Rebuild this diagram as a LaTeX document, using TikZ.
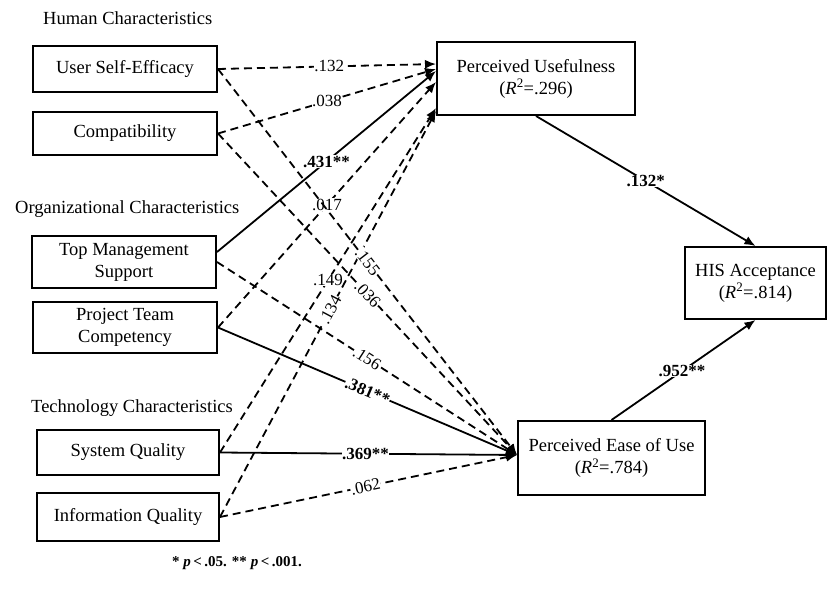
\documentclass[tikz,border=0pt]{standalone}
\usepackage{fontspec}
\setmainfont{Liberation Serif}
\usetikzlibrary{arrows.meta}

\begin{document}
\begin{tikzpicture}[x=1pt, y=-1pt, >={Latex[length=11pt, width=9pt]}, line width=1.8pt,
        box/.style={draw, line width=2pt, align=center, inner sep=0pt, font=\fontsize{18.5}{22}\selectfont},
        lbox/.style={box, minimum width=184pt, minimum height=46pt},
        grp/.style={anchor=west, font=\fontsize{18.5}{22}\selectfont},
        lbl/.style={fill=white, inner sep=0.5pt, font=\fontsize{17}{20}\selectfont},
        sig/.style={lbl, font=\fontsize{17}{20}\selectfont\bfseries},
        dsh/.style={dash pattern=on 8pt off 5pt}]
    \useasboundingbox (0,0) rectangle (828,591);

    \node[grp] (hum) at (39,18) {Human Characteristics};
    \node[grp] (org) at (11,209) {Organizational Characteristics};
    \node[grp] (tec) at (27,408) {Technology Characteristics};

    \node[lbox] (use) at (125,69) {User Self-Efficacy};
    \node[lbox, minimum height=43pt] (cmp) at (125,133.5) {Compatibility};
    \node[lbox, minimum height=52pt] (tms) at (124,262) {Top Management\\Support};
    \node[lbox, minimum height=51pt] (ptc) at (125,327.5) {Project Team\\Competency};
    \node[lbox, minimum width=182pt, minimum height=45pt] (sq) at (128,452.5) {System Quality};
    \node[lbox, minimum width=182pt, minimum height=48pt] (iq) at (128,517) {Information Quality};

    \node[box, minimum width=198pt, minimum height=73pt] (pu) at (536,78.5) {Perceived Usefulness\\(\textit{R}\textsuperscript{2}=.296)};
    \node[box, minimum width=141pt, minimum height=72pt] (his) at (755.5,283) {HIS Acceptance\\(\textit{R}\textsuperscript{2}=.814)};
    \node[box, minimum width=187pt, minimum height=74pt] (pe) at (611.5,458) {Perceived Ease of Use\\(\textit{R}\textsuperscript{2}=.784)};
    \coordinate (peIn) at ([yshift=3pt]pe.west);

    \draw[->, dsh] (use.east) -- node[lbl, pos=.51] {.132} ([yshift=-23pt]pu.north west);
    \draw[->, dsh] (cmp.east) -- node[lbl, pos=.5] {.038} ([yshift=-28pt]pu.north west);
    \draw[->] ([yshift=10pt]tms.east) -- node[sig, pos=.5] {.431**} ([yshift=-30pt]pu.north west);
    \draw[->, dsh] (ptc.east) -- node[lbl, pos=.5] {.017} ([yshift=-41pt]pu.north west);
    \draw[->, dsh] (sq.east) -- node[lbl, pos=.5] {.149} ([yshift=-67pt]pu.north west);
    \draw[->, dsh] (iq.east) -- node[lbl, pos=.51, sloped] {.134} ([yshift=-70pt]pu.north west);

    \draw[->, dsh] (use.east) -- node[lbl, pos=.5, sloped] {.155} (peIn);
    \draw[->, dsh] (cmp.east) -- node[lbl, pos=.5, sloped] {.036} (peIn);
    \draw[->, dsh] (tms.east) -- node[lbl, pos=.5, sloped] {.156} (peIn);
    \draw[->] (ptc.east) -- node[sig, pos=.5, sloped] {.381**} (peIn);
    \draw[->] (sq.east) -- node[sig, pos=.49] {.369**} (peIn);
    \draw[->, dsh] (iq.east) -- node[lbl, pos=.49, sloped] {.062} (peIn);

    \draw[->] (pu.south) -- node[sig, pos=.5] {.132*} (his.north);
    \draw[->] (pe.north) -- node[sig, pos=.49] {.952**} (his.south);

    \node[font=\fontsize{15}{18}\selectfont\bfseries] (note) at (237,563) {* \textit{p}\,<\,.05. ** \textit{p}\,<\,.001.};
\end{tikzpicture}
\end{document}
